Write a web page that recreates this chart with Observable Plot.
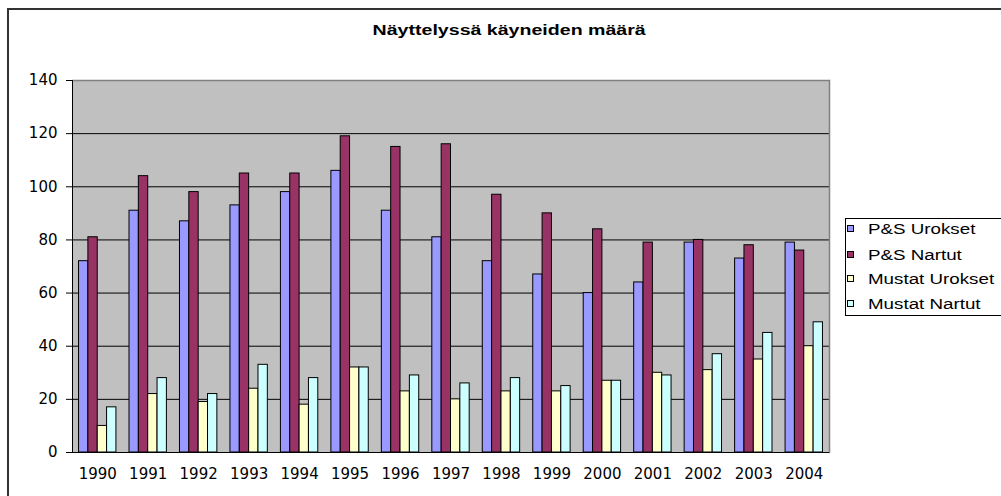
<!DOCTYPE html>
<html>
<head>
<meta charset="utf-8">
<script src="https://cdn.jsdelivr.net/npm/d3@7"></script>
<script src="https://cdn.jsdelivr.net/npm/@observablehq/plot@0.6"></script>
<style>
  html, body { margin: 0; padding: 0; background: #fff; }
  body { width: 1001px; height: 496px; overflow: hidden; position: relative; font-family: "Liberation Sans", Arial, sans-serif; color: #000; }
  #border { position: absolute; left: 7px; top: 8px; width: 1100px; height: 600px; border: 2px solid #333; box-sizing: border-box; }
  #title { position: absolute; left: 9px; top: 20px; width: 1001px; text-align: center; line-height: 20px; font-weight: bold; font-size: 14.5px; }
  #title span { display: inline-block; transform: scaleX(1.35); transform-origin: center; }
  .layer { position: absolute; left: 0; top: 60px; }
  .layer svg { display: block; }
  #legend { position: absolute; left: 845px; top: 218px; width: 300px; height: 98px; border: 1px solid #000; box-sizing: border-box; background: #fff; }
  .item { position: absolute; left: 0; width: 154px; height: 20px; line-height: 20px; white-space: nowrap; }
  .sw { position: absolute; left: 1px; top: 6px; width: 5px; height: 5px; border: 1px solid #000; }
  .lab { position: absolute; left: 22px; top: 0; font-size: 15.5px; display: inline-block; transform: scaleX(1.21); transform-origin: left center; }
</style>
</head>
<body>
<div id="border"></div>
<div id="title"><span></span></div>
<div id="axes" class="layer"></div>
<div id="bars" class="layer"></div>
<div id="legend"></div>
<script>
const titleText = "Näyttelyssä käyneiden määrä";
const years = ["1990","1991","1992","1993","1994","1995","1996","1997","1998","1999","2000","2001","2002","2003","2004"];
const series = ["P&S Urokset", "P&S Nartut", "Mustat Urokset", "Mustat Nartut"];
const psUrokset     = [72, 91, 87, 93, 98, 106, 91, 81, 72, 67, 60, 64, 79, 73, 79];
const psNartut      = [81, 104, 98, 105, 105, 119, 115, 116, 97, 90, 84, 79, 80, 78, 76];
const mustatUrokset = [10, 22, 19, 24, 18, 32, 23, 20, 23, 23, 27, 30, 31, 35, 40];
const mustatNartut  = [17, 28, 22, 33, 28, 32, 29, 26, 28, 25, 27, 29, 37, 45, 49];
const seriesColors = ["#9999FF", "#993366", "#FFFFCC", "#CCFFFF"];
const yTicks = [0, 20, 40, 60, 80, 100, 120, 140];
const gridValues = [20, 40, 60, 80, 100, 120];

const valuesBySeries = [psUrokset, psNartut, mustatUrokset, mustatNartut];
const table = [];
years.forEach((year, i) => {
  series.forEach((s, j) => table.push({year, series: s, value: valuesBySeries[j][i]}));
});

document.querySelector("#title span").textContent = titleText;

const plotWidth = 1001, plotHeight = 430;
const marginTop = 20, marginBottom = 38, marginLeft = 72, marginRight = 172;
const yMax = yTicks[yTicks.length - 1];
const common = {
  width: plotWidth, height: plotHeight,
  marginTop, marginBottom, marginLeft, marginRight,
  style: {fontFamily: "DejaVu Sans", fontSize: "15px", color: "black", background: "transparent", overflow: "visible"},
  y: {domain: [0, yMax], label: null, axis: null}
};

// Layer 1: plot area, grid, axes (no facets)
const axesChart = Plot.plot({
  ...common,
  x: {type: "band", domain: years, padding: 0, round: false, label: null, axis: null},
  marks: [
    Plot.frame({fill: "#C0C0C0", stroke: "none"}),
    Plot.ruleY(gridValues, {stroke: "black", strokeWidth: 1}),
    Plot.ruleY([yMax], {stroke: "#808080", strokeWidth: 1.5}),
    Plot.frame({anchor: "right", stroke: "#808080", strokeWidth: 1.5}),
    Plot.ruleY([0], {stroke: "black", strokeWidth: 1}),
    Plot.frame({anchor: "left", stroke: "black", strokeWidth: 1}),
    Plot.axisX({anchor: "bottom", tickSize: 0, tickPadding: 16, label: null}),
    Plot.axisY({ticks: yTicks, tickSize: 6, tickPadding: 9, label: null, stroke: "black"})
  ]
});
document.getElementById("axes").appendChild(axesChart);

// Layer 2: grouped bars (faceted by year)
const barsChart = Plot.plot({
  ...common,
  fx: {domain: years, padding: 0, round: false, label: null, axis: null},
  x: {domain: series, paddingInner: 0, paddingOuter: 0.7, round: false, axis: null},
  color: {domain: series, range: seriesColors},
  marks: [
    Plot.barY(table, {fx: "year", x: "series", y: "value", fill: "series", stroke: "black", strokeWidth: 1})
  ]
});
document.getElementById("bars").appendChild(barsChart);

const legend = document.getElementById("legend");
const rowCenters = [10, 35.5, 60, 85];
series.forEach((s, i) => {
  const item = document.createElement("div");
  item.className = "item";
  item.style.top = (rowCenters[i] - 10) + "px";
  const sw = document.createElement("div");
  sw.className = "sw";
  sw.style.background = seriesColors[i];
  const lab = document.createElement("span");
  lab.className = "lab";
  lab.textContent = s;
  item.appendChild(sw);
  item.appendChild(lab);
  legend.appendChild(item);
});
</script>
</body>
</html>
